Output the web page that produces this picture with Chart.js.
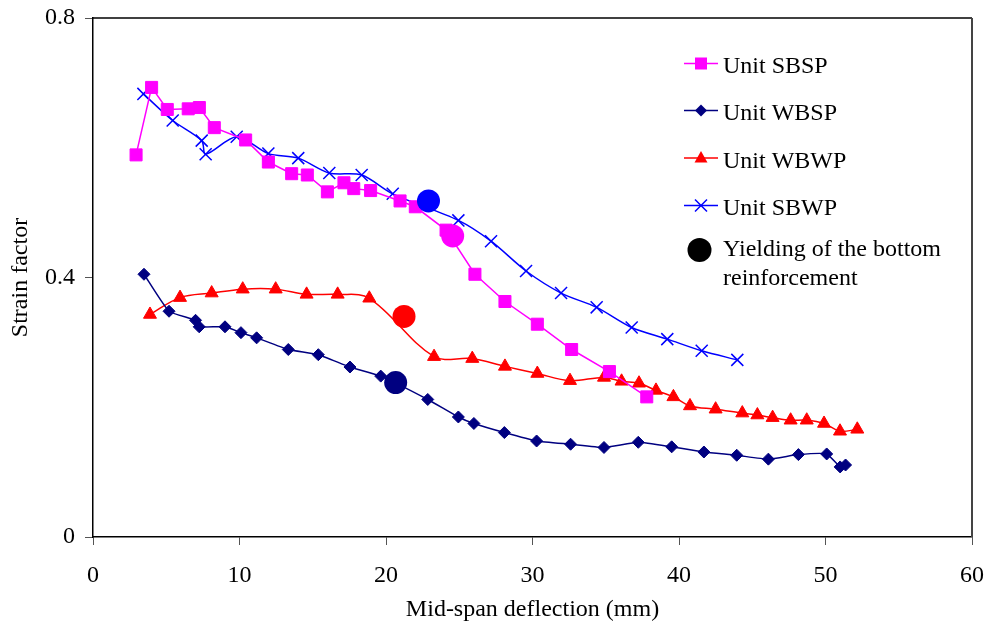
<!DOCTYPE html>
<html>
<head>
<meta charset="utf-8">
<script src="https://cdn.jsdelivr.net/npm/chart.js@4.4.1/dist/chart.umd.min.js"></script>
<style>
  html, body { margin: 0; padding: 0; background: #fff; }
  #wrap { width: 988px; height: 633px; position: relative; }
</style>
</head>
<body>
<div id="wrap"><canvas id="c" width="988" height="633"></canvas></div>
<script>
// ---- Data ----
const xTicks = [0, 10, 20, 30, 40, 50, 60];
const yTicks = [0, 0.4, 0.8];

const sbspX = [2.94, 4.0, 5.07, 6.5, 7.26, 8.28, 10.42, 11.97, 13.56, 14.63, 16.0, 17.13, 17.8, 18.95, 20.96, 22.0, 24.1, 26.07, 28.12, 30.33, 32.67, 35.25, 37.8];
const sbspY = [0.589, 0.693, 0.659, 0.660, 0.662, 0.631, 0.612, 0.578, 0.560, 0.558, 0.532, 0.546, 0.537, 0.534, 0.518, 0.509, 0.473, 0.405, 0.363, 0.328, 0.289, 0.255, 0.216];

const wbspX = [3.48, 5.19, 7.0, 7.25, 9.01, 10.1, 11.17, 13.33, 15.38, 17.54, 19.64, 22.85, 24.94, 26.0, 28.08, 30.28, 32.6, 34.88, 37.22, 39.5, 41.7, 43.94, 46.1, 48.15, 50.08, 51.0, 51.37];
const wbspY = [0.405, 0.348, 0.334, 0.324, 0.324, 0.315, 0.307, 0.289, 0.281, 0.262, 0.248, 0.212, 0.185, 0.175, 0.161, 0.148, 0.143, 0.138, 0.146, 0.139, 0.131, 0.126, 0.120, 0.127, 0.128, 0.108, 0.111];

const wbwpX = [3.89, 5.94, 8.1, 10.22, 12.47, 14.58, 16.7, 18.86, 23.28, 25.89, 28.12, 30.33, 32.56, 34.88, 36.08, 37.27, 38.43, 39.62, 40.75, 42.5, 44.32, 45.35, 46.39, 47.62, 48.72, 49.9, 50.99, 52.17];
const wbwpY = [0.343, 0.369, 0.376, 0.382, 0.382, 0.374, 0.374, 0.368, 0.278, 0.275, 0.263, 0.252, 0.241, 0.246, 0.240, 0.237, 0.226, 0.216, 0.202, 0.197, 0.191, 0.188, 0.184, 0.180, 0.180, 0.175, 0.163, 0.166];

const sbwpX = [3.44, 5.44, 7.42, 7.69, 9.81, 11.97, 14.01, 16.13, 18.34, 20.46, 24.94, 27.17, 29.56, 31.95, 34.38, 36.77, 39.2, 41.55, 43.98];
const sbwpY = [0.683, 0.642, 0.611, 0.590, 0.617, 0.591, 0.584, 0.561, 0.558, 0.529, 0.488, 0.456, 0.410, 0.376, 0.354, 0.323, 0.305, 0.287, 0.273];

// yielding of the bottom reinforcement: SBSP, WBSP, WBWP, SBWP
const yieldX = [24.55, 20.66, 21.23, 22.9];
const yieldY = [0.464, 0.238, 0.340, 0.518];

const seriesNames = ['Unit SBSP', 'Unit WBSP', 'Unit WBWP', 'Unit SBWP'];
const yieldLabel = ['Yielding of the bottom', 'reinforcement'];
const xTitle = 'Mid-span deflection (mm)';
const yTitle = 'Strain factor';

// ---- Styles ----
const FONT = '"Liberation Serif", "Times New Roman", serif';
const colors = ['#FF00FF', '#000080', '#FF0000', '#0000FF'];

function pts(xs, ys) { return xs.map((x, i) => ({ x: x, y: ys[i] })); }

function drawMarker(ctx, style, x, y, color) {
  ctx.save();
  ctx.fillStyle = color; ctx.strokeStyle = color;
  ctx.beginPath();
  if (style === 'rect') {
    ctx.rect(x - 6, y - 6, 12, 12); ctx.fill();
  } else if (style === 'rectRot') {
    ctx.moveTo(x, y - 6); ctx.lineTo(x + 6, y); ctx.lineTo(x, y + 6); ctx.lineTo(x - 6, y); ctx.closePath(); ctx.fill();
  } else if (style === 'triangle') {
    ctx.moveTo(x, y - 7); ctx.lineTo(x + 6.5, y + 4.5); ctx.lineTo(x - 6.5, y + 4.5); ctx.closePath(); ctx.fill();
  } else if (style === 'crossRot') {
    ctx.lineWidth = 1.5;
    ctx.moveTo(x - 6, y - 6); ctx.lineTo(x + 6, y + 6);
    ctx.moveTo(x + 6, y - 6); ctx.lineTo(x - 6, y + 6); ctx.stroke();
  } else if (style === 'circle') {
    ctx.arc(x, y, 12, 0, Math.PI * 2); ctx.fill();
  }
  ctx.restore();
}

const frameAndLegend = {
  id: 'frameAndLegend',
  afterDatasetsDraw(chart) {
    const ctx = chart.ctx;
    const a = chart.chartArea;
    ctx.save();
    // top border
    ctx.strokeStyle = '#000'; ctx.lineWidth = 1.5;
    ctx.beginPath(); ctx.moveTo(a.left, a.top); ctx.lineTo(a.right, a.top); ctx.stroke();
    // right border
    ctx.strokeStyle = '#444'; ctx.lineWidth = 2;
    ctx.beginPath(); ctx.moveTo(a.right, a.top); ctx.lineTo(a.right, a.bottom); ctx.stroke();

    // legend
    const styles = ['rect', 'rectRot', 'triangle', 'crossRot'];
    const rowsY = [63.5, 110.5, 158, 205.5];
    const x0 = 684, x1 = 718, xm = 701, tx = 723;
    ctx.font = '24px ' + FONT;
    ctx.textBaseline = 'alphabetic';
    ctx.textAlign = 'left';
    for (let i = 0; i < 4; i++) {
      const y = rowsY[i];
      ctx.strokeStyle = colors[i]; ctx.lineWidth = 1.5;
      ctx.beginPath(); ctx.moveTo(x0, y); ctx.lineTo(x1, y); ctx.stroke();
      drawMarker(ctx, styles[i], xm, y, colors[i]);
      ctx.fillStyle = '#000';
      ctx.fillText(seriesNames[i], tx, y + 9.5);
    }
    drawMarker(ctx, 'circle', 699.5, 250, '#000');
    ctx.fillStyle = '#000';
    ctx.fillText(yieldLabel[0], tx, 256);
    ctx.fillText(yieldLabel[1], tx, 285);
    ctx.restore();
  }
};

const ctx = document.getElementById('c').getContext('2d');
new Chart(ctx, {
  type: 'scatter',
  data: {
    datasets: [
      {
        label: yieldLabel.join(' '),
        data: pts(yieldX, yieldY),
        showLine: false,
        pointStyle: 'circle',
        pointRadius: 11.5,
        pointBackgroundColor: colors,
        pointBorderColor: colors,
        pointBorderWidth: 0,
        order: 0
      },
      {
        label: seriesNames[0],
        data: pts(sbspX, sbspY),
        showLine: true,
        borderColor: colors[0], backgroundColor: colors[0],
        borderWidth: 1.5, tension: 0,
        pointStyle: 'rect', pointRadius: 8.5, pointBorderWidth: 1,
        pointBackgroundColor: colors[0], pointBorderColor: colors[0],
        order: 1
      },
      {
        label: seriesNames[3],
        data: pts(sbwpX, sbwpY),
        showLine: true,
        borderColor: colors[3], backgroundColor: colors[3],
        borderWidth: 1.5, tension: 0.3,
        pointStyle: 'crossRot', pointRadius: 8.5, pointBorderWidth: 1.5,
        pointBackgroundColor: colors[3], pointBorderColor: colors[3],
        order: 2
      },
      {
        label: seriesNames[1],
        data: pts(wbspX, wbspY),
        showLine: true,
        borderColor: colors[1], backgroundColor: colors[1],
        borderWidth: 1.5, tension: 0.15,
        pointStyle: 'rectRot', pointRadius: 6, pointBorderWidth: 1,
        pointBackgroundColor: colors[1], pointBorderColor: colors[1],
        order: 3
      },
      {
        label: seriesNames[2],
        data: pts(wbwpX, wbwpY),
        showLine: true,
        borderColor: colors[2], backgroundColor: colors[2],
        borderWidth: 1.5, tension: 0.35,
        pointStyle: 'triangle', pointRadius: 7.5, pointBorderWidth: 1,
        pointBackgroundColor: colors[2], pointBorderColor: colors[2],
        order: 4
      }
    ]
  },
  options: {
    responsive: false,
    animation: false,
    events: [],
    layout: { padding: { top: 18, right: 16, left: 0, bottom: 0 } },
    plugins: {
      legend: { display: false },
      tooltip: { enabled: false }
    },
    scales: {
      x: {
        type: 'linear',
        min: 0, max: 60,
        afterFit(s) { s.height = 96; s.paddingLeft = 0; s.paddingRight = 0; },
        afterBuildTicks(s) { s.ticks = xTicks.map(v => ({ value: v })); },
        ticks: { color: '#000', font: { family: FONT, size: 24 }, padding: 16, maxRotation: 0 },
        grid: { drawOnChartArea: false, drawTicks: true, tickLength: 8, color: '#555', lineWidth: 1 },
        border: { display: true, color: '#000', width: 1.5 },
        title: { display: true, text: xTitle, color: '#000', font: { family: FONT, size: 24 }, padding: { top: 0, bottom: 9 } }
      },
      y: {
        type: 'linear',
        min: 0, max: 0.8,
        afterFit(s) { s.width = 93; s.paddingTop = 0; s.paddingBottom = 0; },
        afterBuildTicks(s) { s.ticks = yTicks.map(v => ({ value: v })); },
        ticks: { color: '#000', font: { family: FONT, size: 24 }, padding: 10 },
        grid: { drawOnChartArea: false, drawTicks: true, tickLength: 8, color: '#555', lineWidth: 1 },
        border: { display: true, color: '#000', width: 1.5 },
        title: { display: true, text: yTitle, color: '#000', font: { family: FONT, size: 24 }, padding: { top: 6, bottom: 0 } }
      }
    }
  },
  plugins: [frameAndLegend]
});
</script>
</body>
</html>
